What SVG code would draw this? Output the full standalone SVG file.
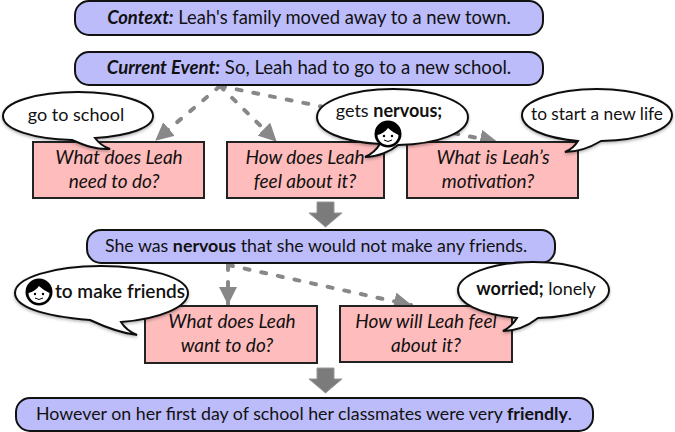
<svg xmlns="http://www.w3.org/2000/svg" width="675" height="432" viewBox="0 0 675 432">
<defs>
<marker id="ah" markerUnits="userSpaceOnUse" markerWidth="20" markerHeight="18" refX="17" refY="9" orient="auto"><path d="M0,0L18,9L0,18Z" fill="#888"/></marker>
<g id="face"><circle r="13.500" fill="#000"/><path d="M-10.500,1C-6,0 -2,-3 0,-6C3,-3 7,-1 10.500,1C10.500,7 5,11 0,11C-5,11 -10.500,7 -10.500,1Z" fill="#fff"/><circle cx="-4" cy="2" r="1.200" fill="#000"/><circle cx="4" cy="2" r="1.200" fill="#000"/><path d="M-4,6Q0,9 4,6" fill="none" stroke="#000" stroke-width="1"/></g>
<filter id="sh" x="-10%" y="-10%" width="120%" height="130%"><feDropShadow dx="0" dy="1.500" stdDeviation="1.500" flood-color="#000" flood-opacity="0.3"/></filter>
</defs>
<style>
text{font-family:"Lato","Noto Sans","Liberation Sans",sans-serif;font-size:18px;fill:#111;text-anchor:middle}
.i{font-style:italic;font-size:19px}
.b{font-weight:700}
.blue{fill:#bcbcfb;stroke:#111;stroke-width:2}
.pink{fill:#ffbcbc;stroke:#222;stroke-width:2}
.bub{fill:#fff;stroke:#111;stroke-width:2;filter:url(#sh)}
.dash{fill:none;stroke:#888;stroke-width:4;stroke-dasharray:5 12;stroke-linecap:round}
.big{fill:#7b7b7b;stroke:#999;stroke-width:1}
</style>
<g id="connectors">
<line class="dash" x1="220" y1="86" x2="156" y2="140" marker-end="url(#ah)"/>
<line class="dash" x1="220" y1="86" x2="276" y2="141" marker-end="url(#ah)"/>
<line class="dash" x1="220" y1="86" x2="497" y2="142" marker-end="url(#ah)"/>
<line class="dash" x1="228" y1="265" x2="228" y2="304" marker-end="url(#ah)"/>
<line class="dash" x1="228" y1="265" x2="411" y2="305" marker-end="url(#ah)"/>
<path class="big" d="M317,202H334V213H342L325.500,227L309,213H317Z"/>
<path class="big" d="M317,368H334V379H342L325.500,393L309,379H317Z"/>
</g>
<g id="context"><rect class="blue" x="75" y="1" width="468" height="34" rx="14"/><text x="309" y="24" style="font-size:18.400px"><tspan class="i b" style="font-size:18.400px">Context:</tspan> Leah's family moved away to a new town.</text></g>
<g id="current"><rect class="blue" x="75" y="52" width="468" height="33" rx="14"/><text x="309" y="74" style="font-size:18.600px"><tspan class="i b" style="font-size:18.600px">Current Event:</tspan> So, Leah had to go to a new school.</text></g>
<g id="q1"><rect class="pink" x="33" y="142" width="171" height="56"/><text class="i" x="119" y="164">What does Leah</text><text class="i" x="114" y="188">need to do?</text></g>
<g id="q2"><rect class="pink" x="227" y="142" width="157" height="56"/><text class="i" x="305" y="164">How does Leah</text><text class="i" x="305" y="188">feel about it?</text></g>
<g id="q3"><rect class="pink" x="407" y="142" width="171" height="56"/><text class="i" x="493" y="164">What is Leah’s</text><text class="i" x="488" y="188">motivation?</text></g>
<g id="event"><rect class="blue" x="87" y="230" width="468" height="33" rx="14"/><text x="316" y="252" style="font-size:17.800px">She was <tspan class="b">nervous</tspan> that she would not make any friends.</text></g>
<g id="q4"><rect class="pink" x="145" y="306" width="172" height="57"/><text class="i" x="232" y="328">What does Leah</text><text class="i" x="227" y="352">want to do?</text></g>
<g id="q5"><rect class="pink" x="340" y="306" width="172" height="56"/><text class="i" x="426" y="328">How will Leah feel</text><text class="i" x="426" y="352">about it?</text></g>
<g id="final"><rect class="blue" x="16" y="398" width="577" height="33" rx="14"/><text x="304" y="420" style="font-size:17.800px">However on her first day of school her classmates were very <tspan class="b">friendly</tspan>.</text></g>
<g id="b1"><path class="bub" d="M78,92C37,92 3,102 3,116C3,130 35,139 72,140C84,145 96,150 110,149C104,147 98,142 95,138C128,136 153,128 153,116C153,102 119,92 78,92Z"/><text x="76" y="121">go to school</text></g>
<g id="b2"><path class="bub" d="M393,89C351,89 317,102 317,117C317,131 342,142 380,144C377,149 372,154 365,157C378,157 391,151 398,145C438,144 468,133 468,117C468,102 434,89 393,89Z"/><text x="389" y="117">gets <tspan class="b">nervous;</tspan></text><use href="#face" x="388" y="134"/></g>
<g id="b3"><path class="bub" d="M597,89C556,89 522,101 522,115C522,128 544,138 578,141C575,146 570,150 565,152C578,152 591,147 601,141C643,140 672,129 672,115C672,101 638,89 597,89Z"/><text x="597" y="120" style="font-size:17.300px">to start a new life</text></g>
<g id="b4"><path class="bub" d="M101,266C53,266 15,278 15,293C15,306 40,316 90,320C105,327 120,333 137,335C130,332 124,327 121,322C160,319 188,307 188,293C188,278 149,266 101,266Z"/><use href="#face" x="39" y="292"/><text x="120" y="298" style="font-size:19px;font-weight:600">to make friends</text></g>
<g id="b5"><path class="bub" d="M533,262C492,262 458,275 458,290C458,303 478,314 517,318C514,323 509,328 503,331C516,331 529,325 538,318C578,317 609,305 609,290C609,275 575,262 533,262Z"/><text x="536" y="295"><tspan class="b">worried;</tspan> lonely</text></g>
</svg>
